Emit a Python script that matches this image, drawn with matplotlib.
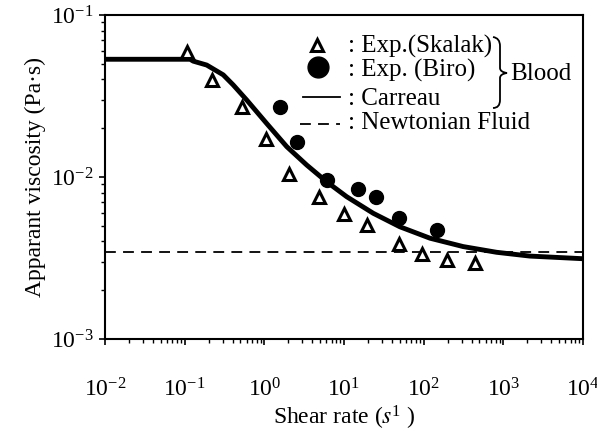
import matplotlib
matplotlib.use("Agg")
import matplotlib.pyplot as plt
from matplotlib.path import Path
from matplotlib.patches import PathPatch
from matplotlib.lines import Line2D
from matplotlib.ticker import LogLocator, NullFormatter

plt.rcParams["font.family"] = ["Liberation Serif", "DejaVu Serif"]
plt.rcParams["mathtext.fontset"] = "stix"
plt.rcParams["mathtext.default"] = "regular"
plt.rcParams["axes.unicode_minus"] = False

# --- data ---
skalak_rate = [0.106, 0.218, 0.528, 1.04, 2.05, 4.89, 9.97, 19.2, 49.3, 94.1, 194, 439]
skalak_visc = [0.0594, 0.0397, 0.0269, 0.0171, 0.0104, 0.0075, 0.00589, 0.00506,
               0.00385, 0.00334, 0.00308, 0.00293]

biro_rate = [1.57, 2.54, 6.15, 15.1, 24.9, 49.3, 145]
biro_visc = [0.0272, 0.0164, 0.00957, 0.00843, 0.0075, 0.00561, 0.00471]

carreau_rate = [0.01, 0.05, 0.117, 0.128, 0.189, 0.305, 0.407, 0.60, 1.07, 1.91, 3.40,
                6.05, 10.8, 23.3, 50.2, 120, 313, 822, 2150, 10000]
carreau_visc = [0.0533, 0.0533, 0.0533, 0.0519, 0.0491, 0.0427, 0.037, 0.0299, 0.0214,
                0.0154, 0.01186, 0.00935, 0.00756, 0.00597, 0.00493, 0.00419, 0.00372,
                0.00343, 0.00325, 0.00313]

newtonian_visc = 0.00346
rate_range = [0.01, 10000]

W, H = 597, 432
fig = plt.figure(figsize=(W / 100, H / 100), dpi=100)
ax = fig.add_axes([105 / W, 1 - 339 / H, (583 - 105) / W, (339 - 15) / H])

ax.plot(rate_range, [newtonian_visc, newtonian_visc], color="black", lw=1.3,
        dashes=(6, 4))
ax.plot(carreau_rate, carreau_visc, color="black", lw=3.5, solid_capstyle="butt")
ax.plot(skalak_rate, skalak_visc, linestyle="none", marker="^", ms=8,
        mfc="white", mec="black", mew=2.2)
ax.plot(biro_rate, biro_visc, linestyle="none", marker="o", ms=10,
        mfc="black", mec="black")

ax.set_xscale("log")
ax.set_yscale("log")
ax.set_xlim(1e-2, 1e4)
ax.set_ylim(1e-3, 1e-1)

ax.xaxis.set_major_locator(LogLocator(base=10, numticks=10))
ax.yaxis.set_major_locator(LogLocator(base=10, numticks=10))
ax.xaxis.set_minor_locator(LogLocator(base=10, subs=range(2, 10), numticks=20))
ax.yaxis.set_minor_locator(LogLocator(base=10, subs=range(2, 10), numticks=20))
ax.xaxis.set_minor_formatter(NullFormatter())
ax.yaxis.set_minor_formatter(NullFormatter())
ax.tick_params(which="major", direction="out", length=4, width=1.2, labelsize=17)
ax.tick_params(axis="x", which="major", pad=24)
ax.tick_params(axis="y", which="major", pad=4)
ax.tick_params(which="minor", direction="out", length=3, width=1)
for s in ax.spines.values():
    s.set_linewidth(1.5)

ax.set_xlabel(r"Shear rate ($\mathit{s}^{1}$ )", fontsize=17, labelpad=2)
ax.set_ylabel("Apparant viscosity (Pa\u00b7s)", fontsize=17, labelpad=4)

# --- hand-made legend in figure pixels ---
def fx(x):
    return x / W

def fy(y):
    return 1 - y / H

fig.add_artist(Line2D([fx(317)], [fy(45)], marker="^", ms=9, mfc="white",
                      mec="black", mew=2.2, linestyle="none"))
fig.add_artist(Line2D([fx(318)], [fy(67)], marker="o", ms=15, mfc="black",
                      mec="black", linestyle="none"))
fig.add_artist(Line2D([fx(303), fx(340)], [fy(97), fy(97)], color="black", lw=1.3))
fig.add_artist(Line2D([fx(300), fx(340)], [fy(124), fy(124)], color="black",
                      lw=1.3, dashes=(6, 4)))

labels = [": Exp.(Skalak)", ": Exp. (Biro)", ": Carreau", ": Newtonian Fluid"]
label_y = [46, 70, 99, 123]
for txt, y in zip(labels, label_y):
    fig.text(fx(348), fy(y), txt, fontsize=18, va="center", ha="left")

verts = [(493, 37), (500, 38), (500, 46), (500, 68), (500, 72), (507, 73),
         (500, 74), (500, 78), (500, 100), (500, 108), (493, 108)]
codes = [Path.MOVETO, Path.CURVE3, Path.CURVE3, Path.LINETO, Path.CURVE3, Path.CURVE3,
         Path.CURVE3, Path.CURVE3, Path.LINETO, Path.CURVE3, Path.CURVE3]
brace = Path([(fx(x), fy(y)) for x, y in verts], codes)
fig.add_artist(PathPatch(brace, transform=fig.transFigure, fill=False, lw=1.3,
                         edgecolor="black"))
fig.text(fx(510), fy(74), "Blood", fontsize=18, va="center", ha="left")

fig.savefig("out.png", dpi=100)
